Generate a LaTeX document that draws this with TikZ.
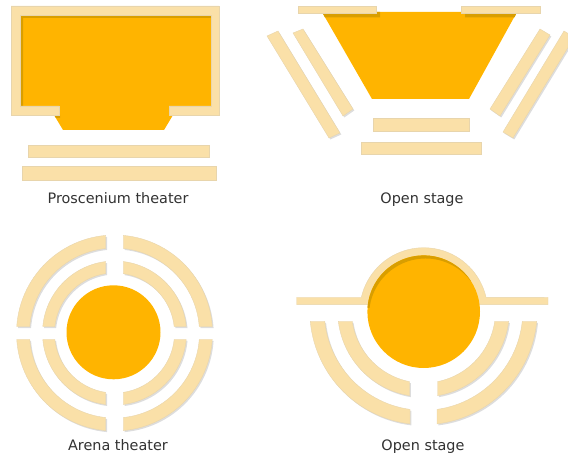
\documentclass[tikz,border=0pt]{standalone}
\usepackage{fontspec}
\setmainfont{DejaVu Sans}
\usetikzlibrary{shadows}
\definecolor{stageorange}{RGB}{255,180,0}
\definecolor{stagedark}{RGB}{217,158,0}
\definecolor{seatcream}{RGB}{250,224,168}
\definecolor{seatedge}{RGB}{232,213,172}
\definecolor{captiongray}{RGB}{50,50,50}
\newcommand{\seatarc}[7]{%
  \pgfmathsetmacro{\outa}{asin(#7/#4)}%
  \pgfmathsetmacro{\outb}{acos(#6/#4)}%
  \pgfmathsetmacro{\inna}{asin(#7/#5)}%
  \pgfmathsetmacro{\innb}{acos(#6/#5)}%
  \draw[seat,shift={#1}]
    plot[domain=\outa:\outb,samples=30,variable=\t] ({#2*#4*cos(\t)},{#3*#4*sin(\t)})
    -- ({#2*#4*cos(\outb)},{#3*#4*sin(\outb)})
    -- plot[domain=\innb:\inna,samples=30,variable=\t] ({#2*#5*cos(\t)},{#3*#5*sin(\t)})
    -- ({#2*#5*cos(\inna)},{#3*#5*sin(\inna)})
    -- cycle;}
\begin{document}
\begin{tikzpicture}[
    x=1pt,y=-1pt,
    seat/.style={fill=seatcream,draw=seatedge,line width=0.4pt,line join=miter,
      drop shadow={shadow xshift=1.3pt,shadow yshift=-1.5pt,fill=black!22,opacity=0.6}},
    wall/.style={fill=seatcream,draw=seatedge,line width=0.4pt},
    stage/.style={fill=stageorange},
    dark/.style={fill=stagedark},
    caption/.style={anchor=base,text=captiongray,font=\fontsize{14.4}{17}\selectfont,inner sep=0pt}
  ]
    \useasboundingbox (0,0) rectangle (568,457);

    \fill[stage] (20,15) rectangle (211,106);
    \fill[stage] (59,106) -- (54,115) -- (63,130) -- (164,130) -- (173,115) -- (169,106) -- cycle;
    \fill[dark] (20,15) -- (211,15) -- (211,18) -- (23,18) -- (23,106) -- (20,106) -- cycle;
    \fill[dark] (54,115) -- (60,115) -- (60,118) -- (56,118) -- cycle;
    \draw[wall] (11,6) -- (219,6) -- (219,115) -- (169,115) -- (169,106) -- (211,106)
      -- (211,15) -- (20,15) -- (20,106) -- (59,106) -- (59,115) -- (11,115) -- cycle;
    \draw[seat] (28,145) rectangle (209,157);
    \draw[seat] (22,166) rectangle (216,180);
    \node[caption] (proscenium) at (118,204) {Proscenium theater};

    \fill[stage] (322,12) -- (517,12) -- (469,99) -- (372,99) -- cycle;
    \fill[dark] (322,12) -- (380,12) -- (380,17.5) -- (325,17.5) -- cycle;
    \fill[dark] (465,12) -- (517,12) -- (514.5,17.5) -- (465,17.5) -- cycle;
    \draw[wall] (298,6) rectangle (376,13);
    \draw[wall] (461,6) rectangle (540,13);
    \draw[seat] (267,36) -- (278,31) -- (340,133) -- (329,138) -- cycle;
    \draw[seat] (293,33) -- (303,29) -- (353,109) -- (343,116) -- cycle;
    \draw[seat] (540,29) -- (550,35) -- (500,116) -- (490,109) -- cycle;
    \draw[seat] (564,31) -- (568,33.4) -- (568,47.5) -- (513,138) -- (503,132) -- cycle;
    \draw[seat] (373,118) rectangle (469,131);
    \draw[seat] (361,142) rectangle (481,154);
    \node[caption] (openupper) at (422,204) {Open stage};

    \fill[stage] (113.5,332.3) circle[radius=47];
    \foreach \sx/\sy in {1/1,-1/1,1/-1,-1/-1} {
      \seatarc{(114.5,333)}{\sx}{\sy}{98}{85}{8.8}{6.5}
      \seatarc{(114.5,333)}{\sx}{\sy}{72}{60}{8.8}{6.5}
    }
    \node[caption] (arena) at (118,450.3) {Arena theater};

    \draw[wall] (296.7,297.3) -- (361.3,297.3)
      -- plot[domain=167:13,samples=40,variable=\t] ({423.7+64*cos(\t)},{311.7-64*sin(\t)})
      -- (548,297.3) -- (548,304.7) -- (296.7,304.7) -- cycle;
    \fill[stage] (423.7,311.7) circle[radius=56.3];
    \fill[dark] plot[domain=176:33,samples=40,variable=\t] ({423.7+56.3*cos(\t)},{311.7-56.3*sin(\t)})
      -- plot[domain=33:176,samples=40,variable=\t]
        ({423.7+(56.3-3.6*cos(\t-120))*cos(\t)},{311.7-(56.3-3.6*cos(\t-120))*sin(\t)}) -- cycle;
    \foreach \sx in {1,-1} {
      \seatarc{(423.5,311)}{\sx}{1}{113.7}{99.3}{13.5}{10.3}
      \seatarc{(423.5,311)}{\sx}{1}{85.8}{72}{14}{10.3}
    }
    \node[caption] (openlower) at (423,450.3) {Open stage};
  \end{tikzpicture}
\end{document}
